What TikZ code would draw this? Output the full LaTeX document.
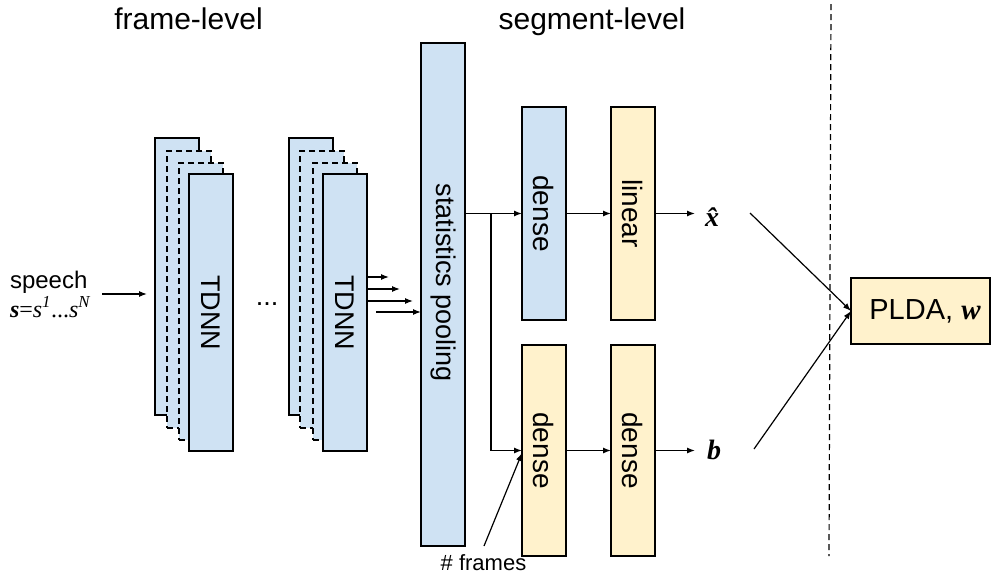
\documentclass[tikz,border=0pt]{standalone}
\usepackage{fontspec}
\setmainfont{Liberation Sans}
\newfontfamily\serifface{Liberation Serif}
\usetikzlibrary{arrows.meta}
\definecolor{boxblue}{HTML}{CFE2F3}
\definecolor{boxyellow}{HTML}{FFF2CC}
\newcommand{\fsz}[1]{\fontsize{#1}{#1}\selectfont}
\begin{document}
\begin{tikzpicture}[x=1pt,y=-1pt,
  blk/.style={draw=black, line width=1.2pt, inner sep=0pt, outer sep=0pt, anchor=north west},
  bluebox/.style={blk, fill=boxblue},
  yelbox/.style={blk, fill=boxyellow},
  dashbox/.style={dash pattern=on 6pt off 4pt},
  tall/.style={minimum width=44pt, minimum height=277pt},
  arr/.style={-{Latex[length=8pt,width=6pt]}, line width=1.2pt},
  ln/.style={line width=1.2pt},
  lbl/.style={inner sep=0pt, outer sep=0pt},
  vtext/.style={lbl, rotate=-90}
]
\useasboundingbox (0,0) rectangle (991,574);

% headers
\node[lbl, anchor=base] (hframe) at (188.5,29) {\fsz{30}frame-level};
\node[lbl, anchor=base] (hseg) at (592,29) {\fsz{30}segment-level};

% speech input
\node[lbl, anchor=base west] (speech) at (10,288) {\fsz{24}speech};
\node[lbl, anchor=base west] (sform) at (10,317) {\fsz{24}\serifface{\bfseries\itshape s}={\itshape s}\textsuperscript{\itshape 1}...{\itshape s}\textsuperscript{\itshape N}};
\coordinate (sin0) at (102,294);
\coordinate (sin1) at (147,294);
\draw[arr] (sin0) -- (sin1);

% TDNN stack 1
\node[bluebox, tall] (t1a) at (155,138) {};
\node[bluebox, tall, dashbox] (t1b) at (167,151) {};
\node[bluebox, tall, dashbox] (t1c) at (179,163) {};
\node[bluebox, tall] (t1d) at (189,174) {};
\node[vtext] (t1lab) at (t1d.center) {\fsz{27}TDNN};

% dots
\node[lbl, anchor=base] (dots) at (267,305) {\fsz{27}...};

% TDNN stack 2
\node[bluebox, tall] (t2a) at (289,138) {};
\node[bluebox, tall, dashbox] (t2b) at (300,151) {};
\node[bluebox, tall, dashbox] (t2c) at (313,163) {};
\node[bluebox, tall] (t2d) at (323,174) {};
\node[vtext] (t2lab) at (t2d.center) {\fsz{27}TDNN};

% statistics pooling
\node[bluebox, minimum width=44pt, minimum height=503pt] (stats) at (421,43) {};
\node[vtext] (statslab) at (443,283) {\fsz{27}statistics pooling};

% arrows into pooling
\coordinate (pa1) at (367,277); \coordinate (pb1) at (389,277);
\coordinate (pa2) at (367,289); \coordinate (pb2) at (400,289);
\coordinate (pa3) at (368,301); \coordinate (pb3) at (413,301);
\coordinate (pa4) at (376,312); \coordinate (pb4) at (421,312);
\draw[arr] (pa1) -- (pb1);
\draw[arr] (pa2) -- (pb2);
\draw[arr] (pa3) -- (pb3);
\draw[arr] (pa4) -- (pb4);

% segment-level boxes
\node[bluebox, minimum width=44pt, minimum height=213pt] (dense1) at (522,107) {};
\node[vtext] at (dense1.center) {\fsz{28}dense};
\node[yelbox, minimum width=44pt, minimum height=213pt] (linear) at (611,107) {};
\node[vtext] at (linear.center) {\fsz{28}linear};
\node[yelbox, minimum width=44pt, minimum height=211pt] (dense2) at (522,345) {};
\node[vtext] at (dense2.center) {\fsz{28}dense};
\node[yelbox, minimum width=44pt, minimum height=211pt] (dense3) at (611,345) {};
\node[vtext] at (dense3.center) {\fsz{28}dense};

% connections
\coordinate (branch) at (491,0);
\draw[arr] (stats.east |- dense1.west) -- (dense1.west);
\draw[arr] (branch |- dense1.west) |- (dense2.west);
\draw[arr] (dense1.east) -- (linear.west);
\draw[arr] (dense2.east) -- (dense3.west);

% outputs
\node[lbl] (xhat) at (712,217) {\fsz{28}\serifface\bfseries\itshape \^{x}};
\node[lbl] (bout) at (714,450) {\fsz{28}\serifface\bfseries\itshape b};
\coordinate (xe) at (695,213.5);
\coordinate (be) at (695,450.5);
\draw[arr] (linear.east) -- (xe);
\draw[arr] (dense3.east) -- (be);

% # frames
\node[lbl, anchor=base] (frames) at (483.5,570) {\fsz{22}\# frames};
\coordinate (fr0) at (484,546);
\coordinate (fr1) at (522,453);
\draw[arr] (fr0) -- (fr1);

% separator
\coordinate (sep0) at (831,4);
\coordinate (sep1) at (829,556);
\draw[ln, dash pattern=on 6pt off 4pt] (sep0) -- (sep1);

% PLDA
\node[yelbox, minimum width=139pt, minimum height=66pt] (plda) at (851,278) {};
\node[lbl] (pldalab) at (925,311) {\fsz{29}PLDA, {\serifface\bfseries\itshape w}};
\coordinate (xl) at (750,213);
\coordinate (bl) at (754,449);
\draw[arr] (xl) -- (plda.west);
\draw[arr] (bl) -- (plda.west);
\end{tikzpicture}
\end{document}
